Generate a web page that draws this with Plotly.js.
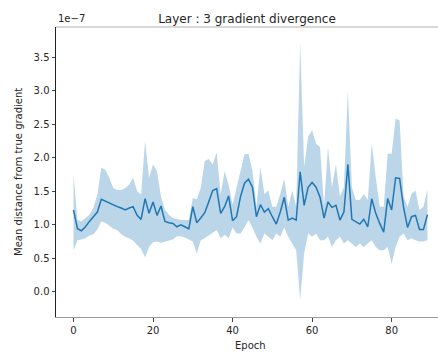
<!DOCTYPE html>
<html>
<head>
<meta charset="utf-8">
<script src="https://cdn.plot.ly/plotly-3.0.1.min.js"></script>
<style>html,body{margin:0;padding:0;overflow:hidden;background:#fff}</style>
</head>
<body>
<div id="chart" style="width:438px;height:352px"></div>
<script>
// values in units of 1e-7
const epochs = Array.from({length: 90}, (_, i) => i);
const meanDist = [1.22,0.94,0.91,0.97,1.05,1.12,1.19,1.38,1.35,1.32,
  1.29,1.27,1.25,1.22,1.25,1.27,1.14,1.08,1.39,1.17,
  1.34,1.14,1.28,1.05,1.03,1.02,0.97,1.00,0.97,0.94,
  1.27,1.03,1.10,1.18,1.34,1.51,1.54,1.17,1.27,1.43,
  1.06,1.12,1.42,1.62,1.68,1.56,1.12,1.30,1.19,1.24,
  1.12,1.01,1.19,1.41,1.07,1.10,1.07,1.79,1.29,1.56,
  1.63,1.56,1.41,1.10,1.34,1.26,1.29,1.07,1.19,1.90,
  1.08,1.04,1.01,1.08,0.97,1.39,1.17,1.02,0.89,1.39,
  1.22,1.70,1.69,1.26,0.96,1.12,1.14,0.93,0.93,1.15];
const upperDist = [1.75,1.07,1.05,1.10,1.15,1.25,1.45,1.85,1.82,1.70,
  1.55,1.52,1.52,1.55,1.60,1.70,1.50,1.45,2.25,1.70,
  1.90,1.80,1.42,1.22,1.15,1.10,1.08,1.07,1.07,1.07,
  1.40,1.38,1.55,1.95,1.98,1.90,2.08,1.45,1.80,1.60,
  1.30,1.55,1.80,2.05,2.06,1.81,1.27,1.86,1.46,1.51,
  1.27,1.27,1.46,1.69,1.27,1.51,1.27,3.72,1.86,2.31,
  2.41,2.21,2.16,1.27,2.16,1.56,1.90,1.42,1.56,3.00,
  1.56,1.37,1.37,1.46,1.37,2.21,1.71,1.27,1.27,2.06,
  2.06,2.58,2.56,1.42,1.27,1.46,1.51,1.22,1.27,1.53];
const lowerDist = [0.62,0.77,0.78,0.80,0.84,0.86,0.93,1.05,1.03,0.98,
  0.94,0.92,0.86,0.82,0.80,0.76,0.70,0.64,0.51,0.67,
  0.74,0.75,0.73,0.75,0.76,0.78,0.83,0.83,0.81,0.78,
  0.75,0.57,0.77,0.80,0.84,0.88,0.92,0.80,0.85,0.80,
  0.96,0.87,0.87,0.96,1.07,0.96,0.82,0.72,0.87,0.82,
  0.77,0.87,0.82,0.96,0.82,0.72,0.62,-0.12,0.57,0.87,
  0.82,0.87,0.77,0.77,0.82,0.67,0.77,0.82,0.72,0.77,
  0.72,0.67,0.72,0.67,0.72,0.77,0.67,0.62,0.62,0.67,
  0.42,0.67,0.82,0.87,0.77,0.80,0.77,0.75,0.75,0.77];
const xTicks = [0, 20, 40, 60, 80];
const yTicks = [0.0, 0.5, 1.0, 1.5, 2.0, 2.5, 3.0, 3.5];

const font = "DejaVu Sans, sans-serif";
const traces = [
  {x: epochs, y: upperDist, type: 'scatter', mode: 'lines', line: {width: 0, color: 'rgba(31,119,180,0)'}, hoverinfo: 'skip', showlegend: false},
  {x: epochs, y: lowerDist, type: 'scatter', mode: 'lines', fill: 'tonexty', fillcolor: 'rgba(31,119,180,0.3)', line: {width: 0, color: 'rgba(31,119,180,0)'}, hoverinfo: 'skip', showlegend: false},
  {x: epochs, y: meanDist, type: 'scatter', mode: 'lines', line: {width: 1.5, color: '#1f77b4'}, showlegend: false}
];
const layout = {
  width: 438, height: 352,
  margin: {l: 56, r: 0, t: 27, b: 35},
  paper_bgcolor: '#fff', plot_bgcolor: '#fff',
  font: {family: font, size: 10, color: '#262626'},
  title: {text: 'Layer : 3 gradient divergence', font: {family: font, size: 12, color: '#262626'}, x: 0.5, xref: 'paper', y: 1, yref: 'paper', yanchor: 'bottom', pad: {b: 4}},
  xaxis: {range: [-4.4, 91.66], tickvals: xTicks, ticktext: xTicks.map(String), showgrid: false, zeroline: false,
    showline: true, linecolor: '#999', linewidth: 1, ticks: 'outside', ticklen: 3.5, tickcolor: '#444', tickfont: {size: 10}},
  yaxis: {range: [-0.376, 3.95], tickvals: yTicks, ticktext: yTicks.map(v => v.toFixed(1)), showgrid: false, zeroline: false,
    showline: true, linecolor: '#222', linewidth: 1, ticks: 'outside', ticklen: 3.5, tickcolor: '#444', tickfont: {size: 10}},
  shapes: [{type: 'line', xref: 'paper', yref: 'paper', x0: 0, x1: 1, y0: 1, y1: 1, line: {color: '#ccc', width: 1.5}}],
  annotations: [
    {text: '1e\u22127', xref: 'paper', yref: 'paper', x: 0, y: 1, xanchor: 'left', yanchor: 'bottom', yshift: 1, showarrow: false, font: {size: 10}},
    {text: 'Epoch', xref: 'paper', yref: 'paper', x: 0.508, y: -0.097, xanchor: 'center', yanchor: 'middle', showarrow: false, font: {size: 10}},
    {text: 'Mean distance from true gradient', xref: 'paper', yref: 'paper', x: -0.0995, y: 0.5, textangle: -90, xanchor: 'center', yanchor: 'middle', showarrow: false, font: {size: 10}}
  ]
};
Plotly.newPlot('chart', traces, layout, {displayModeBar: false, staticPlot: true});
</script>
</body>
</html>
